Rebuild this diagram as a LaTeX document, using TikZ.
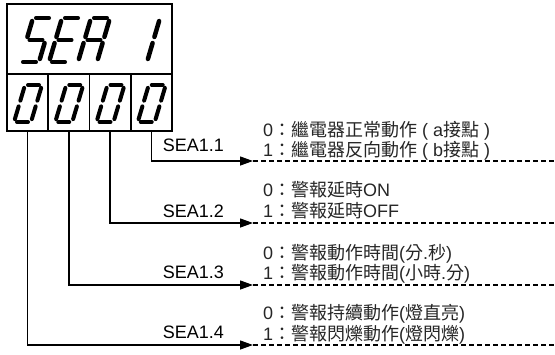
\documentclass[tikz,border=0pt]{standalone}
\usepackage{fontspec}
\setmainfont{Liberation Sans}
\newfontfamily\cjkfont{Noto Sans CJK TC}
\newcommand\zh[1]{{\cjkfont #1}}
\usetikzlibrary{arrows.meta}
\newcommand\segdigit[6]{%
  \coordinate (BL) at (#1,#2);
  \coordinate (BR) at ({#1+#3},#2);
  \coordinate (ML) at ({#1+#5/2},{#2-#4/2});
  \coordinate (MR) at ({#1+#3+#5/2},{#2-#4/2});
  \coordinate (TL) at ({#1+#5},{#2-#4});
  \coordinate (TR) at ({#1+#3+#5},{#2-#4});
  \foreach \p/\q in {#6} {\draw (\p) -- (\q);}%
}
\begin{document}
\begin{tikzpicture}[x=1pt,y=-1pt,
  frame/.style={draw, line width=1.5pt, inner sep=0pt},
  cellbox/.style={frame, minimum width=41.25pt, minimum height=57pt},
  bigseg/.style={line width=4.5pt, line cap=round, shorten >=3.2pt, shorten <=3.2pt},
  smallseg/.style={line width=4pt, line cap=round, shorten >=3pt, shorten <=3pt},
  conn/.style={line width=1.3pt, -{Triangle[length=13pt,width=9pt]}},
  dline/.style={line width=1.3pt, dash pattern=on 5pt off 3pt},
  lbl/.style={font=\fontsize{18}{20}\selectfont, inner sep=0pt, anchor=base east},
  txt/.style={font=\fontsize{18}{20}\selectfont, inner sep=0pt, anchor=base west, text=black!85}]
\useasboundingbox (0,0) rectangle (555,354);
\fill[white] (0,0) rectangle (555,354);

% display frame
\node[frame, minimum width=165pt, minimum height=70pt] (disp) at (89.5,39) {};
\node[cellbox] (c1) at (27.6,102.5) {};
\node[cellbox] (c2) at (68.9,102.5) {};
\node[cellbox] (c3) at (110.1,102.5) {};
\node[cellbox] (c4) at (151.4,102.5) {};

% top digits S E A 1
\begin{scope}[bigseg]
\segdigit{20}{62}{19}{44}{13}{TL/TR,TL/ML,ML/MR,MR/BR,BL/BR}
\segdigit{49}{62}{19}{44}{13}{TL/TR,TL/ML,ML/MR,ML/BL,BL/BR}
\segdigit{78}{62}{19}{44}{13}{TL/TR,TR/MR,MR/BR,TL/ML,ML/BL,ML/MR}
\segdigit{128}{62}{19}{44}{13}{TR/MR,MR/BR}
\end{scope}
% bottom digits 0 0 0 0
\begin{scope}[smallseg]
\foreach \cx in {7,48.25,89.5,130.75}{
  \segdigit{\cx+7}{122}{17}{37}{11}{TL/TR,TR/MR,MR/BR,BL/BR,ML/BL,TL/ML}
}
\end{scope}

% arrow ends and line ends
\coordinate (a1) at (253,161); \coordinate (e1) at (555,161);
\coordinate (a2) at (253,223); \coordinate (e2) at (555,223);
\coordinate (a3) at (253,285); \coordinate (e3) at (555,285);
\coordinate (a4) at (253,345); \coordinate (e4) at (555,345);

\draw[conn] (c4.south) |- (a1);
\draw[conn] (c3.south) |- (a2);
\draw[conn] (c2.south) |- (a3);
\draw[conn] (c1.south) |- (a4);
\draw[dline] (a1) -- (e1);
\draw[dline] (a2) -- (e2);
\draw[dline] (a3) -- (e3);
\draw[dline] (a4) -- (e4);

% labels
\node[lbl] (s1) at (224,151.5) {SEA1.1};
\node[lbl] (s2) at (224,217.5) {SEA1.2};
\node[lbl] (s3) at (224,278.5) {SEA1.3};
\node[lbl] (s4) at (224,338.5) {SEA1.4};

% descriptions
\node[txt] (t1a) at (263,136) {0\zh{：繼電器正常動作} ( a\zh{接點} )};
\node[txt] (t1b) at (263,156) {1\zh{：繼電器反向動作} ( b\zh{接點} )};
\node[txt] (t2a) at (263,196.5) {0\zh{：警報延時}ON};
\node[txt] (t2b) at (263,217.5) {1\zh{：警報延時}OFF};
\node[txt] (t3a) at (263,259) {0\zh{：警報動作時間}(\zh{分}.\zh{秒})};
\node[txt] (t3b) at (263,279) {1\zh{：警報動作時間}(\zh{小時}.\zh{分})};
\node[txt] (t4a) at (263,319) {0\zh{：警報持續動作}(\zh{燈直亮})};
\node[txt] (t4b) at (263,340) {1\zh{：警報閃爍動作}(\zh{燈閃爍})};
\end{tikzpicture}
\end{document}
